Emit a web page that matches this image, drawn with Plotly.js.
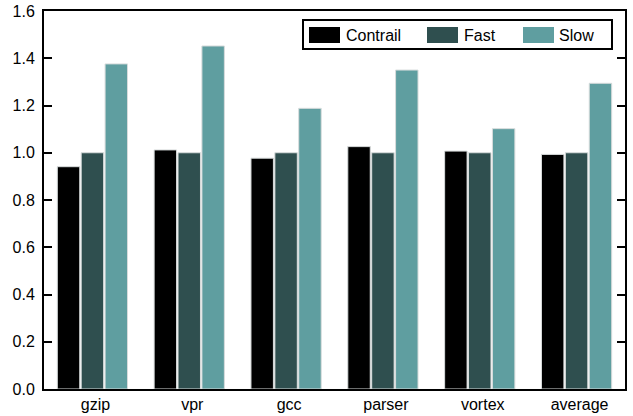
<!DOCTYPE html>
<html>
<head>
<meta charset="utf-8">
<script src="https://cdn.plot.ly/plotly-3.0.1.min.js"></script>
<style>html,body{margin:0;padding:0;background:#fff;}#chart{width:633px;height:416px;}</style>
</head>
<body>
<div id="chart"></div>
<script>
var categories = ["gzip", "vpr", "gcc", "parser", "vortex", "average"];
var seriesNames = ["Contrail", "Fast", "Slow"];
var contrail = [0.941, 1.012, 0.977, 1.026, 1.007, 0.993];
var fast = [1.0, 1.0, 1.0, 1.0, 1.0, 1.0];
var slow = [1.376, 1.452, 1.188, 1.350, 1.102, 1.294];
var yTicks = [0, 0.2, 0.4, 0.6, 0.8, 1.0, 1.2, 1.4, 1.6];
var yTickText = ["0.0", "0.2", "0.4", "0.6", "0.8", "1.0", "1.2", "1.4", "1.6"];

var colors = ["#000000", "#2f4f4f", "#5f9ea0"];
var seriesValues = [contrail, fast, slow];

var W = 633, H = 416;
var M = {l: 44, r: 8, t: 11, b: 27};
var plotW = W - M.l - M.r, plotH = H - M.t - M.b;
function px(x) { return (x - M.l) / plotW; }
function py(y) { return (H - M.b - y) / plotH; }

var outline = {color: "#d8dcdc", width: 1};
var data = seriesNames.map(function (n, i) {
  return {type: "bar", name: n, x: categories, y: seriesValues[i],
          marker: {color: colors[i], line: outline}};
});

// Legend drawn as layout shapes/annotations (pixel layout)
var legendBox = {x0: 303, x1: 612, y0: 20, y1: 49};
var swatchX = [309, 427, 523];
var swatchW = 31, swatchY0 = 27, swatchY1 = 43;
var textX = [344, 462, 557];
var shapes = [{
  type: "rect", xref: "paper", yref: "paper",
  x0: px(legendBox.x0), x1: px(legendBox.x1), y0: py(legendBox.y1), y1: py(legendBox.y0),
  line: {color: "#000", width: 2}, fillcolor: "#fff", layer: "above"
}];
var annotations = [];
seriesNames.forEach(function (n, i) {
  shapes.push({
    type: "rect", xref: "paper", yref: "paper",
    x0: px(swatchX[i]), x1: px(swatchX[i] + swatchW), y0: py(swatchY1), y1: py(swatchY0),
    line: {width: 0}, fillcolor: colors[i], layer: "above"
  });
  annotations.push({
    xref: "paper", yref: "paper", x: px(textX[i]), y: py(35),
    xanchor: "left", yanchor: "middle", showarrow: false, text: n,
    font: {size: 16, color: "#000"}
  });
});

var layout = {
  width: W, height: H,
  margin: M,
  paper_bgcolor: "#fff", plot_bgcolor: "#fff",
  font: {family: "Liberation Sans, Arial, sans-serif", size: 16, color: "#000"},
  barmode: "group", bargap: 0.26, bargroupgap: 0.06,
  showlegend: false,
  shapes: shapes,
  annotations: annotations,
  xaxis: {
    showline: true, linecolor: "#000", linewidth: 2, mirror: true,
    ticks: "", showgrid: false, zeroline: false, ticklabelshift: 3,
    tickfont: {size: 16}
  },
  yaxis: {
    range: [0, 1.6], showline: true, linecolor: "#000", linewidth: 2, mirror: "ticks",
    ticks: "inside", ticklen: 8, tickwidth: 2, tickcolor: "#000",
    tickvals: yTicks, ticktext: yTickText, showgrid: false, zeroline: false,
    tickfont: {size: 16}, ticklabelstandoff: 4
  }
};

Plotly.newPlot("chart", data, layout, {displayModeBar: false, staticPlot: true});
</script>
</body>
</html>
